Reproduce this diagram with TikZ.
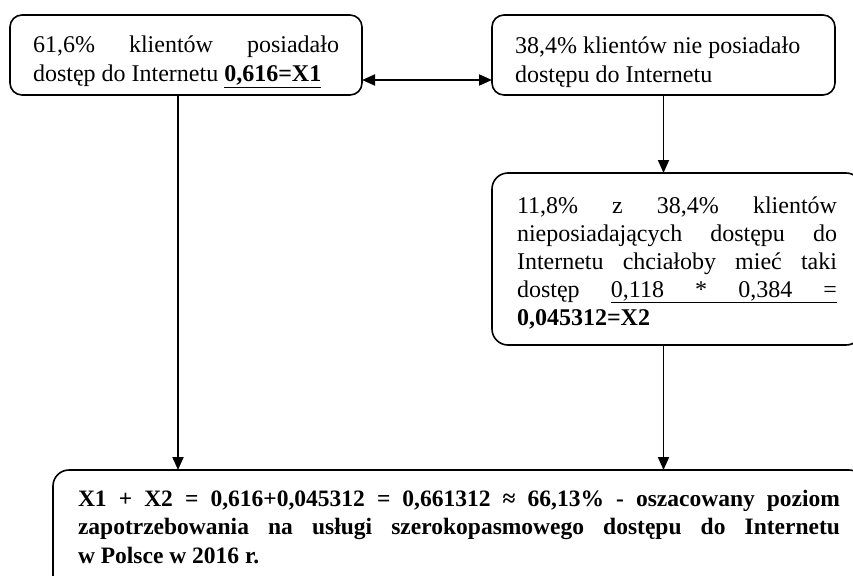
\documentclass[tikz,border=0pt]{standalone}
\usepackage{fontspec}
\setmainfont{Liberation Serif}
\usetikzlibrary{arrows.meta}
\newcommand\jline[2]{\makebox[#1][s]{\spaceskip=0pt\xspaceskip=0pt #2}}
% #1 box height, #2 text width, #3 first baseline from top, #4 baselineskip, #5 text
\newcommand\boxtext[5]{\parbox[c][#1][t]{#2}{\baselineskip=#4\relax\rule{0pt}{#3}#5}}
\begin{document}
\begin{tikzpicture}[x=1pt,y=1pt,
  box/.style={draw, line width=1.6pt, rounded corners=12pt, anchor=north west,
    font=\fontsize{24}{28.5}\selectfont, inner ysep=0pt, outer sep=0pt},
  arr/.style={line width=1.8pt, -{Triangle[length=13pt,width=11pt]}},
  dblarr/.style={line width=1.8pt, {Triangle[length=13pt,width=11pt]}-{Triangle[length=13pt,width=11pt]}},
]
\useasboundingbox (0,0) rectangle (853,-575);
\clip (0,0) rectangle (853,-575);

\node[box, inner xsep=23pt] (b1) at (10,-15)
  {\boxtext{80pt}{306pt}{38pt}{29pt}{\jline{306pt}{61,6\% klientów posiadało}\\
   dostęp do Internetu \underline{\textbf{0,616=X1}}}};

\node[box, inner xsep=23pt] (b2) at (492,-15)
  {\boxtext{80pt}{297pt}{39pt}{28.5pt}{38,4\% klientów nie posiadało\\
   dostępu do Internetu}};

\node[box, rounded corners=16pt, inner xsep=25pt] (b3) at (492,-173)
  {\boxtext{172pt}{320pt}{40pt}{28pt}{\jline{320pt}{11,8\% z 38,4\% klientów}\\
   \jline{320pt}{nieposiadających dostępu do}\\
   \jline{320pt}{Internetu chciałoby mieć taki}\\
   \jline{320pt}{dostęp \underline{\jline{226pt}{0,118 * 0,384 =}}}\\
   \textbf{0,045312=X2}}};

\node[box, rounded corners=16pt, inner xsep=25pt,
      font=\bfseries\fontsize{23.5}{28.5}\selectfont] (b4) at (53,-470)
  {\boxtext{124pt}{762pt}{36pt}{28.5pt}{\jline{762pt}{X1 + X2 = 0,616+0,045312 = 0,661312 ≈ 66,13\% - oszacowany poziom}\\
   \jline{762pt}{zapotrzebowania na usługi szerokopasmowego dostępu do Internetu}\\
   w Polsce w 2016 r.}};

\draw[dblarr] ([yshift=15pt]b1.south east) -- ([yshift=15pt]b2.south west);
\draw[arr] (b2.south) -- (b2.south |- b3.north);
\draw[arr] (b3.south -| b2.south) -- (b4.north -| b2.south);
\draw[arr] ([xshift=-8pt]b1.south) -- ([xshift=-8pt]b1.south |- b4.north);
\end{tikzpicture}
\end{document}
